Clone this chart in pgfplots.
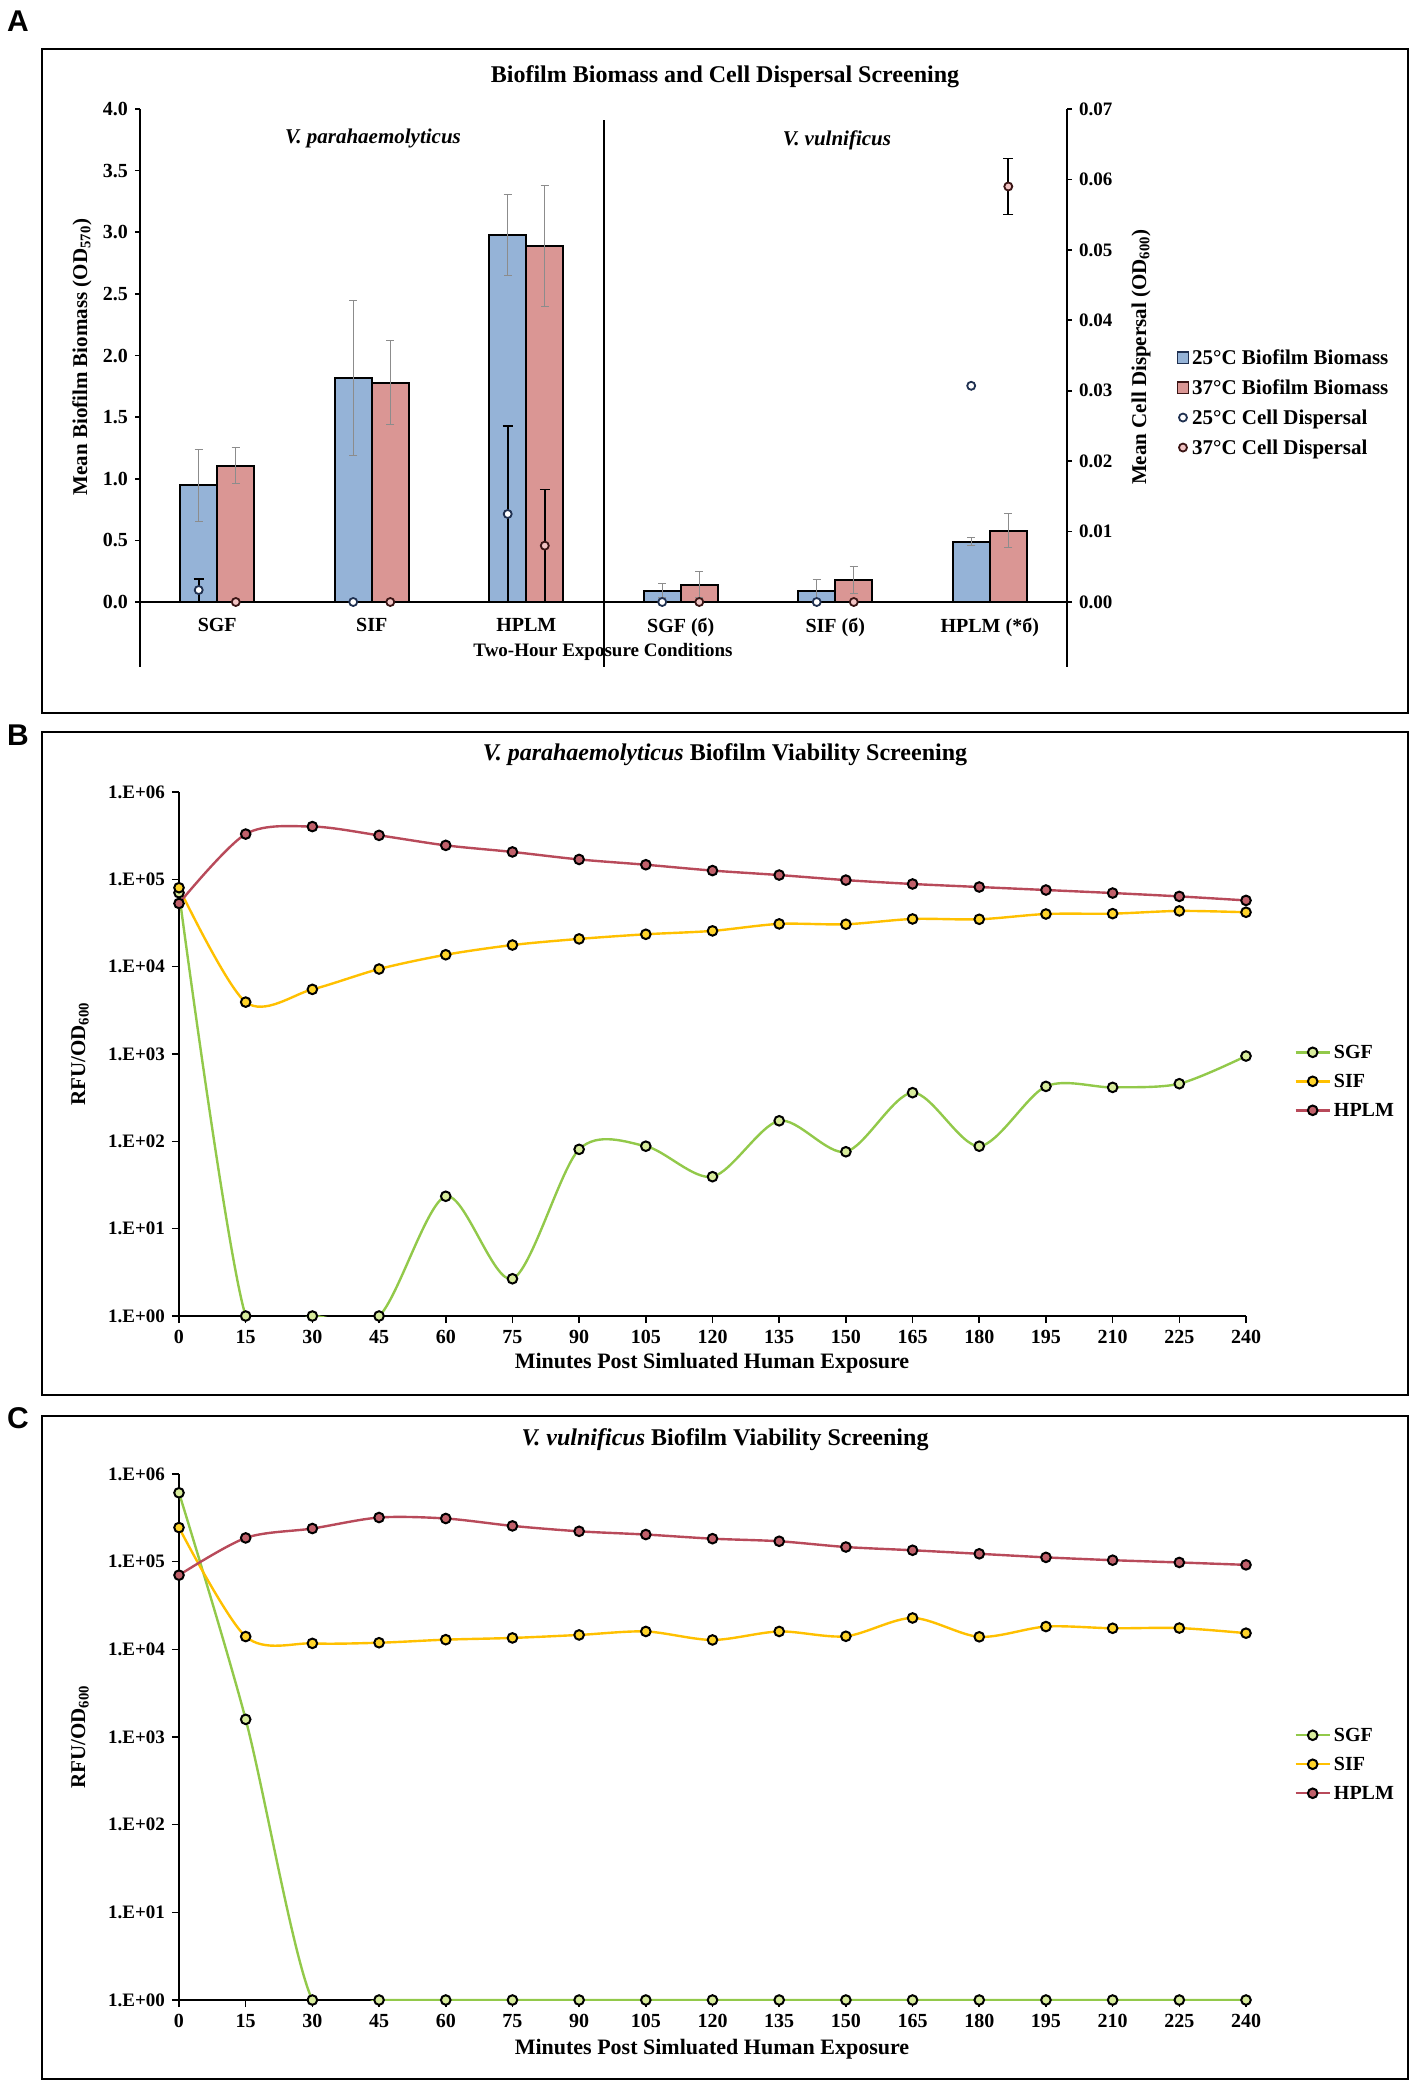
\documentclass[border=0pt]{standalone}
\usepackage{fontspec}
\setmainfont{Liberation Serif}
\newfontfamily\sansf{Liberation Sans}
\usepackage{pgfplots}
\usepackage{pgfplotstable}
\pgfplotsset{compat=1.18}

\definecolor{barblue}{HTML}{95B3D7}
\definecolor{barred}{HTML}{DA9694}
\definecolor{errgray}{HTML}{8C8C8C}
\definecolor{navy}{HTML}{1F3050}
\definecolor{darkred}{HTML}{3A1515}
\definecolor{pinkfill}{HTML}{F2C4C4}
\definecolor{sgfline}{HTML}{92C94A}
\definecolor{sgffill}{HTML}{D8EC9C}
\definecolor{sifline}{HTML}{FFC000}
\definecolor{siffill}{HTML}{FFD42A}
\definecolor{hplmline}{HTML}{B84A5A}
\definecolor{hplmfill}{HTML}{C0606A}

\newcommand{\fs}[1]{\fontsize{#1}{#1}\selectfont\bfseries}

% panel A: biomass bars (mean, +err, -err)
\pgfplotstableread{
x  b    bp   bm   r    rp   rm
0  0.95 0.29 0.30 1.10 0.15 0.14
1  1.82 0.63 0.63 1.78 0.34 0.34
2  2.98 0.33 0.33 2.89 0.49 0.49
3  0.09 0.06 0.05 0.14 0.11 0.10
4  0.09 0.09 0.09 0.18 0.11 0.11
5  0.49 0.03 0.03 0.58 0.14 0.14
}\biomass

% panel A: cell dispersal points
\pgfplotstableread{
x     y
-0.12 0.0017
0.88  0
1.88  0.0125
2.88  0
3.88  0
4.88  0.0307
}\dispA
\pgfplotstableread{
x     y
0.12  0
1.12  0
2.12  0.008
3.12  0
4.12  0
5.12  0.059
}\dispB
\pgfplotstableread{
x     y      ep     em
-0.12 0.0017 0.0016 0.0017
1.88  0.0125 0.0125 0.0125
2.12  0.008  0.008  0.008
5.12  0.059  0.004  0.004
}\disperr

% panel B: V. parahaemolyticus
\pgfplotstableread{
t   sgf    sif    hplm
0   70300  80200  53000
15  1      3930   330000
30  1      5500   402000
45  1      9400   319000
60  23.5   13700  245000
75  2.67   17700  206000
90  81     20800  169000
105 88     23500  147000
120 39.4   25700  126000
135 172    30900  112000
150 76     30600  98000
165 361    35200  88500
180 88     34900  81700
195 426    40100  75500
210 415    40500  69700
225 457    43500  63800
240 948    42000  57400
}\vpara

% panel C: V. vulnificus
\pgfplotstableread{
t   sgf    sif    hplm
0   611000 245000 70200
15  1590   14000  186700
30  1      11700  239000
45  1      11900  319000
60  1      12900  311000
75  1      13500  256000
90  1      14600  222000
105 1      16000  204000
120 1      12800  183000
135 1      16000  171000
150 1      14100  147000
165 1      22800  135000
180 1      13900  123000
195 1      18200  112000
210 1      17400  104000
225 1      17500  98000
240 1      15300  92000
}\vvul

\pgfplotsset{
  dotlegend/.style={legend image code/.code={\draw[##1] plot coordinates {(2.8pt,0pt)};}},
  boxlegend/.style={legend image code/.code={\draw[##1, line width=0.6pt] (0pt,-2.8pt) rectangle (5.6pt,2.8pt);}},
  viab/.style={
    width=533.5pt, scale only axis,
    xmin=0, xmax=240, ymin=1, ymax=1e6,
    axis x line*=bottom, axis y line*=left,
    axis line style={line width=1pt, black},
    tick align=outside, major tick length=3.5pt,
    tick style={line width=0.8pt, black},
    yminorticks=false,
    xtick={0,15,...,240},
    ytick={1,10,100,1000,10000,100000,1000000},
    yticklabels={1.E+00,1.E+01,1.E+02,1.E+03,1.E+04,1.E+05,1.E+06},
    /pgf/number format/assume math mode=true,
    xticklabel style={font=\fs{10}},
    yticklabel style={font=\fs{9.5}},
    legend cell align=left,
    legend style={at={(1.045,0.525)}, anchor=north west, draw=none, fill=none,
      font=\fs{10}, inner sep=0pt, row sep=3.5pt,
      nodes={inner sep=1.5pt, text height=7pt, text depth=1pt}},
  },
  sgfst/.style={sgfline, line width=1.2pt, smooth, tension=0.5, mark=*, mark size=2.4pt,
    mark options={fill=sgffill, draw=black, line width=1pt, solid}},
  sifst/.style={sifline, line width=1.2pt, smooth, tension=0.5, mark=*, mark size=2.4pt,
    mark options={fill=siffill, draw=black, line width=1pt, solid}},
  hplmst/.style={hplmline, line width=1.2pt, smooth, tension=0.5, mark=*, mark size=2.4pt,
    mark options={fill=hplmfill, draw=black, line width=1pt, solid}},
}

\begin{document}
\begin{tikzpicture}

% ---------- panel A ----------
\begin{axis}[
  at={(70pt,-301pt)}, anchor=south west,
  width=463.5pt, height=246.5pt, scale only axis,
  xmin=-0.5, xmax=5.5, ymin=0, ymax=4,
  ybar=0pt, bar width=18.5pt,
  axis x line*=bottom, axis y line*=left,
  axis line style={line width=1pt, black},
  xtick={0,...,5},
  xticklabels={SGF,SIF,HPLM,SGF (б),SIF (б),HPLM (*б)},
  x tick style={draw=none},
  xticklabel style={font=\fs{10}, yshift=-2pt},
  ytick={0,0.5,1,1.5,2,2.5,3,3.5,4},
  yticklabels={0.0,0.5,1.0,1.5,2.0,2.5,3.0,3.5,4.0},
  yticklabel style={font=\fs{10}},
  tick align=outside, major tick length=2.5pt,
  y tick style={line width=0.8pt, black},
  clip=false,
]
\addplot[fill=barblue, draw=black, line width=1pt,
  error bars/.cd, y dir=both, y explicit,
  error bar style={errgray, line width=0.5pt},
  error mark options={errgray, rotate=90, mark size=2pt, line width=0.5pt}]
  table[x=x, y=b, y error plus=bp, y error minus=bm]{\biomass};
\addplot[fill=barred, draw=black, line width=1pt,
  error bars/.cd, y dir=both, y explicit,
  error bar style={errgray, line width=0.5pt},
  error mark options={errgray, rotate=90, mark size=2pt, line width=0.5pt}]
  table[x=x, y=r, y error plus=rp, y error minus=rm]{\biomass};
\end{axis}

\begin{axis}[
  at={(70pt,-301pt)}, anchor=south west,
  width=463.5pt, height=246.5pt, scale only axis,
  xmin=-0.5, xmax=5.5, ymin=0, ymax=0.07,
  axis x line=none, axis y line*=right,
  axis line style={line width=1pt, black},
  scaled y ticks=false,
  ytick={0,0.01,0.02,0.03,0.04,0.05,0.06,0.07},
  yticklabels={0.00,0.01,0.02,0.03,0.04,0.05,0.06,0.07},
  yticklabel style={font=\fs{9.5}},
  tick align=outside, major tick length=2.5pt,
  y tick style={line width=0.8pt, black},
  clip=false,
  legend cell align=left,
  legend style={at={(1.118,0.52)}, anchor=north west, draw=none, fill=none,
    font=\fs{10.5}, inner sep=0pt, row sep=3.5pt,
    nodes={inner sep=1.5pt, text height=7.5pt, text depth=1pt}},
]
\addlegendimage{boxlegend, fill=barblue, draw=navy}
\addlegendentry{25°C Biofilm Biomass}
\addlegendimage{boxlegend, fill=barred, draw=darkred}
\addlegendentry{37°C Biofilm Biomass}
\addlegendimage{only marks, mark=*, mark size=2pt, mark options={fill=white, draw=navy, line width=0.9pt}, dotlegend}
\addlegendentry{25°C Cell Dispersal}
\addlegendimage{only marks, mark=*, mark size=2pt, mark options={fill=pinkfill, draw=darkred, line width=0.9pt}, dotlegend}
\addlegendentry{37°C Cell Dispersal}

\addplot[only marks, mark=none, forget plot,
  error bars/.cd, y dir=both, y explicit,
  error bar style={draw=black, line width=0.8pt},
  error mark options={draw=black, rotate=90, mark size=2.5pt, line width=0.8pt}]
  table[x=x, y=y, y error plus=ep, y error minus=em]{\disperr};
\addplot[only marks, forget plot, mark=*, mark size=2pt,
  mark options={fill=white, draw=navy, line width=0.9pt}]
  table[x=x, y=y]{\dispA};
\addplot[only marks, forget plot, mark=*, mark size=2pt,
  mark options={fill=pinkfill, draw=darkred, line width=0.9pt}]
  table[x=x, y=y]{\dispB};
\end{axis}

% ---------- panel B ----------
\begin{axis}[ymode=log, viab, at={(89.5pt,-658pt)}, anchor=south west, height=262pt]
\addplot[sgfst] table[x=t, y=sgf]{\vpara};
\addlegendentry{SGF}
\addplot[sifst] table[x=t, y=sif]{\vpara};
\addlegendentry{SIF}
\addplot[hplmst] table[x=t, y=hplm]{\vpara};
\addlegendentry{HPLM}
\end{axis}

% ---------- panel C ----------
\begin{axis}[ymode=log, viab, at={(89.5pt,-1000pt)}, anchor=south west, height=263pt]
\addplot[sgfst] table[x=t, y=sgf]{\vvul};
\addlegendentry{SGF}
\addplot[sifst] table[x=t, y=sif]{\vvul};
\addlegendentry{SIF}
\addplot[hplmst] table[x=t, y=hplm]{\vvul};
\addlegendentry{HPLM}
\end{axis}

% ---------- frames, titles, labels (pixel grid) ----------
\begin{scope}[x=0.5pt, y=-0.5pt]
\path (0,0) rectangle (1418,2090);
\draw[line width=1.3pt] (42,49) rectangle (1408,713);
\draw[line width=1.3pt] (42,732) rectangle (1408,1395);
\draw[line width=1.3pt] (42,1416) rectangle (1408,2079);
\node[font=\sansf\bfseries\fontsize{15}{15}\selectfont] at (18,21) {A};
\node[font=\sansf\bfseries\fontsize{15}{15}\selectfont] at (18,735) {B};
\node[font=\sansf\bfseries\fontsize{15}{15}\selectfont] at (18,1418) {C};

% panel A decorations
\draw[line width=1pt] (140,602) -- (140,667);
\draw[line width=1pt] (1067,602) -- (1067,667);
\draw[line width=1pt] (604,120) -- (604,667);
\node[font=\fs{12}] at (725,77) {Biofilm Biomass and Cell Dispersal Screening};
\node[font=\fs{10.5}] at (373,138) {\itshape V. parahaemolyticus};
\node[font=\fs{10.5}] at (837,140) {\itshape V. vulnificus};
\node[font=\fs{10.5}, rotate=90] at (82,357) {Mean Biofilm Biomass (OD\textsubscript{570})};
\node[font=\fs{10.5}, rotate=90] at (1141,357) {Mean Cell Dispersal (OD\textsubscript{600})};
\node[font=\fs{9.5}] at (603,652) {Two-Hour Exposure Conditions};

% panel B
\node[font=\fs{12}] at (725,755) {\textit{V. parahaemolyticus} Biofilm Viability Screening};
\node[font=\fs{11}] at (712,1363) {Minutes Post Simluated Human Exposure};
\node[font=\fs{10.5}, rotate=90] at (80,1054) {RFU/OD\textsubscript{600}};

% panel C
\node[font=\fs{12}] at (725,1440) {\textit{V. vulnificus} Biofilm Viability Screening};
\node[font=\fs{11}] at (712,2049) {Minutes Post Simluated Human Exposure};
\node[font=\fs{10.5}, rotate=90] at (80,1737) {RFU/OD\textsubscript{600}};
\end{scope}

\end{tikzpicture}
\end{document}
